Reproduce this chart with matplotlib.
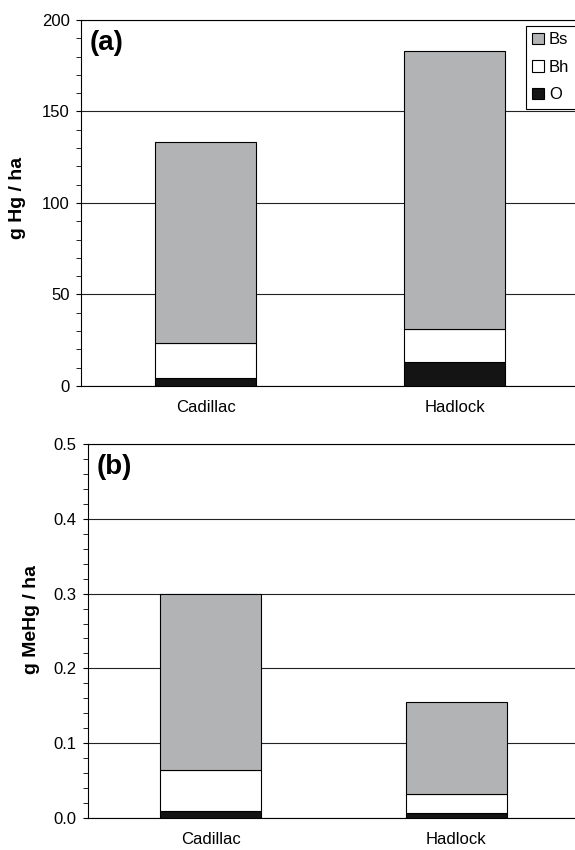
import numpy as np
import matplotlib.pyplot as plt
from matplotlib.ticker import MultipleLocator

plt.rcParams['font.family'] = ['Liberation Sans', 'DejaVu Sans']

sites = ['Cadillac', 'Hadlock']
horizons = ['O', 'Bh', 'Bs']
horizon_colors = ['#141414', 'white', '#b2b3b5']

# panel (a): total Hg, g Hg / ha (amount per horizon)
hg_o = [4.4, 12.9]
hg_bh = [18.9, 18.1]
hg_bs = [110.2, 151.9]

# panel (b): MeHg, g MeHg / ha
mehg_o = [0.0085, 0.006]
mehg_bh = [0.0554, 0.0257]
mehg_bs = [0.2362, 0.1233]


def stacked(ax, layers, width):
    x = np.arange(len(sites))
    bottom = np.zeros(len(sites))
    handles = []
    for vals, col, name in zip(layers, horizon_colors, horizons):
        b = ax.bar(x, vals, width, bottom=bottom, color=col, edgecolor='black',
                   linewidth=0.8, label=name, zorder=3)
        handles.append(b)
        bottom += np.array(vals)
    ax.set_xticks(x)
    ax.set_xticklabels(sites, fontsize=12)
    ax.set_xlim(-0.5, 1.5)
    ax.tick_params(axis='x', length=0, pad=10)
    ax.tick_params(axis='y', which='both', direction='out', length=3.5,
                   pad=4.5, labelsize=12)
    ax.yaxis.grid(True, which='major', color='#222222', linewidth=0.8, zorder=0)
    ax.spines['right'].set_visible(False)
    return handles


fig = plt.figure(figsize=(5.75, 8.5), dpi=100)

ax1 = fig.add_axes([0.141, 0.5459, 0.866, 0.4306])
h = stacked(ax1, [hg_o, hg_bh, hg_bs], 0.403)
ax1.set_ylim(0, 200)
ax1.yaxis.set_major_locator(MultipleLocator(50))
ax1.yaxis.set_minor_locator(MultipleLocator(10))
ax1.text(0.018, 0.937, '(a)', transform=ax1.transAxes, fontsize=20,
         fontweight='bold', va='center', ha='left')
leg = ax1.legend(handles=h[::-1], loc='upper right', bbox_to_anchor=(0.994, 0.984),
                 fontsize=12, handlelength=0.7, handleheight=0.7, handletextpad=0.3,
                 labelspacing=0.75, borderpad=0.4, fancybox=False, framealpha=1,
                 edgecolor='black', borderaxespad=0)
leg.get_frame().set_linewidth(0.8)
fig.text(17 / 575, 1 - 198 / 850, 'g Hg / ha', rotation=90, ha='center',
         va='center', fontsize=14, fontweight='bold')

ax2 = fig.add_axes([0.153, 0.038, 0.854, 0.4393])
stacked(ax2, [mehg_o, mehg_bh, mehg_bs], 0.41)
ax2.set_ylim(0, 0.5)
ax2.yaxis.set_major_locator(MultipleLocator(0.1))
ax2.yaxis.set_minor_locator(MultipleLocator(0.02))
ax2.yaxis.set_major_formatter(lambda v, p: f'{v:.1f}')
ax2.text(0.018, 0.939, '(b)', transform=ax2.transAxes, fontsize=20,
         fontweight='bold', va='center', ha='left')
fig.text(31 / 575, 1 - 620 / 850, 'g MeHg / ha', rotation=90, ha='center',
         va='center', fontsize=14, fontweight='bold')

fig.savefig('out.png', dpi=100)
